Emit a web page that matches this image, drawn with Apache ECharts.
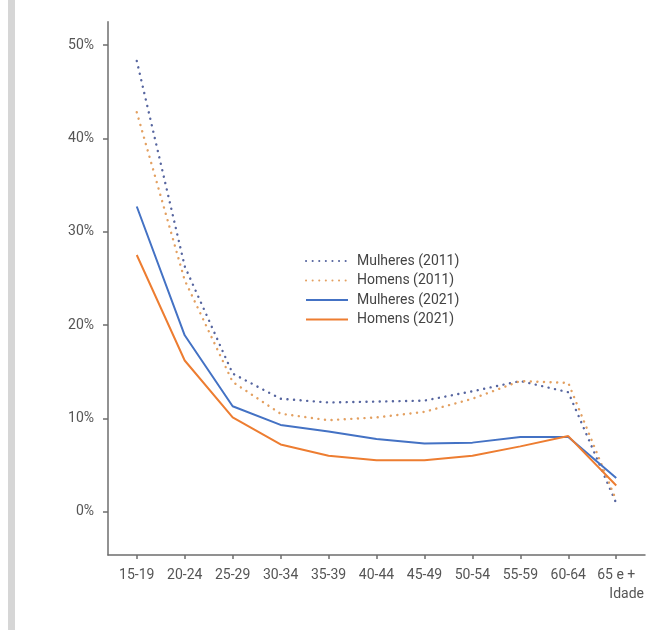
<!DOCTYPE html>
<html>
<head>
<meta charset="utf-8">
<script src="https://cdn.jsdelivr.net/npm/echarts@6/dist/echarts.min.js"></script>
<style>
html,body{margin:0;padding:0;background:#fff;}
#chart{width:647px;height:630px;}
</style>
</head>
<body>
<div id="chart"></div>
<script>
const categories = ['15-19','20-24','25-29','30-34','35-39','40-44','45-49','50-54','55-59','60-64','65 e +'];
const yTicks = [0, 10, 20, 30, 40, 50];
const mulheres2011 = [48.3, 26.3, 14.8, 12.1, 11.7, 11.8, 11.9, 12.9, 14.0, 12.8, 0.9];
const homens2011   = [42.8, 24.8, 13.9, 10.5, 9.8, 10.1, 10.7, 12.1, 14.0, 13.8, 1.2];
const mulheres2021 = [32.7, 18.9, 11.3, 9.3, 8.6, 7.8, 7.3, 7.4, 8.0, 8.0, 3.6];
const homens2021   = [27.5, 16.2, 10.1, 7.2, 6.0, 5.5, 5.5, 6.0, 7.0, 8.1, 2.8];
const seriesNames = ['Mulheres (2011)','Homens (2011)','Mulheres (2021)','Homens (2021)'];

const BLUE = '#4472C4', ORANGE = '#ED7D31';
const catIdx = categories.map((c, i) => i);
const pts = arr => arr.map((v, i) => [i, v]);

const chart = echarts.init(document.getElementById('chart'), null, {renderer: 'canvas'});
const dotted = [0.1, 6.5];
chart.setOption({
  animation: false,
  textStyle: {fontFamily: 'Roboto'},
  graphic: [{
    type: 'rect', left: 8, top: 0,
    shape: {width: 7, height: 630},
    style: {fill: '#d6d6d6'}
  }],
  grid: {left: 108, right: 1, top: 21.7, bottom: 75},
  legend: {
    orient: 'vertical', left: 300, top: 249,
    itemWidth: 42, itemHeight: 14, itemGap: 5.5,
    itemStyle: {opacity: 0},
    textStyle: {fontSize: 14, color: '#444', padding: [0, 0, 0, 4]},
    data: seriesNames
  },
  xAxis: {
    type: 'value', min: -0.6, max: 10.6,
    name: 'Idade', nameLocation: 'end', nameGap: 0,
    nameTextStyle: {fontSize: 14, color: '#555', align: 'right', verticalAlign: 'top', padding: [32, 1, 0, 0]},
    splitLine: {show: false},
    axisLine: {show: true, onZero: false, lineStyle: {color: '#6e6e6e', width: 1.5}},
    axisTick: {show: true, customValues: catIdx, length: 4, lineStyle: {color: '#6e6e6e', width: 1.5}},
    axisLabel: {customValues: catIdx, formatter: v => categories[Math.round(v)], fontSize: 14, color: '#555', margin: 13}
  },
  yAxis: {
    type: 'value', min: -4.64, max: 52.5,
    splitLine: {show: false},
    axisLine: {show: true, onZero: false, lineStyle: {color: '#6e6e6e', width: 1.5}},
    axisTick: {show: true, customValues: yTicks, length: 5, lineStyle: {color: '#6e6e6e', width: 1.5}},
    axisLabel: {customValues: yTicks, formatter: '{value}%', fontSize: 14, color: '#555', margin: 14}
  },
  series: [
    {name: seriesNames[0], type: 'line', data: pts(mulheres2011), symbol: 'none', color: '#56659f',
     lineStyle: {width: 2.4, type: dotted, cap: 'round', color: '#56659f'}},
    {name: seriesNames[1], type: 'line', data: pts(homens2011), symbol: 'none', color: '#e3a061',
     lineStyle: {width: 2.4, type: dotted, cap: 'round', color: '#e3a061'}},
    {name: seriesNames[2], type: 'line', data: pts(mulheres2021), symbol: 'none', color: BLUE,
     lineStyle: {width: 2, color: BLUE}},
    {name: seriesNames[3], type: 'line', data: pts(homens2021), symbol: 'none', color: ORANGE,
     lineStyle: {width: 2, color: ORANGE}}
  ]
});
</script>
</body>
</html>
